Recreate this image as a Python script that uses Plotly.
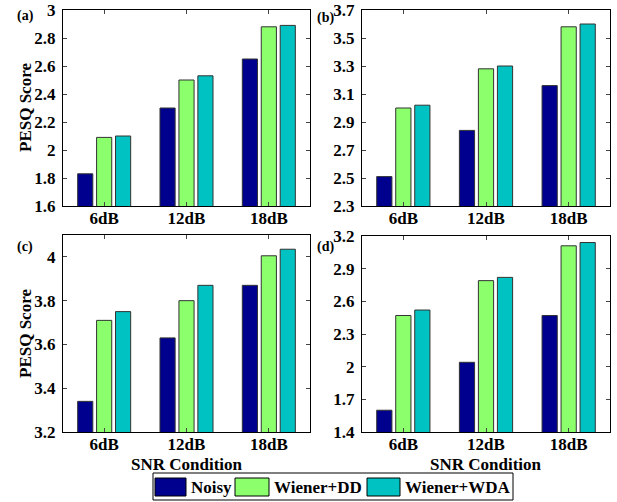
import plotly.graph_objects as go

categories = ["6dB", "12dB", "18dB"]
series_names = ["Noisy", "Wiener+DD", "Wiener+WDA"]
colors = ["#00008F", "#8CFF6C", "#00C2C2"]

# panel (a)
a_noisy = [1.83, 2.30, 2.65]
a_dd = [2.09, 2.50, 2.88]
a_wda = [2.10, 2.53, 2.89]
# panel (b)
b_noisy = [2.51, 2.84, 3.16]
b_dd = [3.00, 3.28, 3.58]
b_wda = [3.02, 3.30, 3.60]
# panel (c)
c_noisy = [3.34, 3.63, 3.87]
c_dd = [3.71, 3.80, 4.005]
c_wda = [3.75, 3.87, 4.035]
# panel (d)
d_noisy = [1.60, 2.04, 2.47]
d_dd = [2.47, 2.79, 3.11]
d_wda = [2.52, 2.82, 3.14]

y_ranges = {"a": [1.6, 3.0], "b": [2.3, 3.7], "c": [3.2, 4.1], "d": [1.4, 3.2]}
y_dticks = {"a": 0.2, "b": 0.2, "c": 0.2, "d": 0.3}
y_tick0 = {"a": 1.6, "b": 2.3, "c": 3.2, "d": 1.4}

W, H = 617, 502
FONT = "Liberation Serif, Times New Roman, serif"

def px(x):
    return x / W

def py(y):
    return 1 - y / H

panels = {
    "a": (a_noisy, a_dd, a_wda, [63, 310], [10, 206], "x", "y"),
    "b": (b_noisy, b_dd, b_wda, [362, 610], [10, 206], "x2", "y2"),
    "c": (c_noisy, c_dd, c_wda, [63, 310], [235, 432], "x3", "y3"),
    "d": (d_noisy, d_dd, d_wda, [362, 610], [236, 432], "x4", "y4"),
}

fig = go.Figure()
xpos = [1, 2, 3]
layout = {}
for key, (n, dd, wda, xd, yd, xa, ya) in panels.items():
    for name, vals, col in zip(series_names, [n, dd, wda], colors):
        fig.add_trace(go.Bar(x=xpos, y=vals, name=name, marker_color=col,
                             marker_line_color="#333333", marker_line_width=1,
                             xaxis=xa, yaxis=ya, showlegend=False))
    xname = "xaxis" + xa[1:]
    yname = "yaxis" + ya[1:]
    layout[xname] = dict(domain=[px(xd[0]), px(xd[1])], anchor=ya, range=[0.5, 3.5],
                         tickvals=xpos, ticktext=categories, ticks="inside", ticklen=4,
                         showline=True, linecolor="black", linewidth=1, mirror="ticks",
                         showgrid=False, zeroline=False, ticklabelstandoff=-3, automargin=False,
                         tickfont=dict(family=FONT, size=17, color="black", weight="bold"))
    layout[yname] = dict(domain=[py(yd[1]), py(yd[0])], anchor=xa, range=y_ranges[key],
                         tick0=y_tick0[key], dtick=y_dticks[key], ticks="inside", ticklen=4,
                         showline=True, linecolor="black", linewidth=1, mirror="ticks",
                         showgrid=False, zeroline=False, ticklabelstandoff=3, automargin=False,
                         tickfont=dict(family=FONT, size=17, color="black", weight="bold"))

fig.update_layout(**layout)

annotations = []
bold = dict(family=FONT, size=17, color="black", weight="bold")
for lab, x, y in [("(a)", 25, 16), ("(b)", 325, 18), ("(c)", 25, 247), ("(d)", 325, 247)]:
    annotations.append(dict(text=lab, x=px(x), y=py(y), xref="paper", yref="paper",
                            showarrow=False, xanchor="center", yanchor="middle",
                            font=dict(family=FONT, size=14, color="black", weight="bold")))
for y in [108, 334]:
    annotations.append(dict(text="PESQ Score", x=px(25), y=py(y), xref="paper", yref="paper",
                            showarrow=False, textangle=-90, xanchor="center", yanchor="middle",
                            font=bold))
for x in [187, 486]:
    annotations.append(dict(text="SNR Condition", x=px(x), y=py(464), xref="paper", yref="paper",
                            showarrow=False, xanchor="center", yanchor="middle", font=bold))

# custom legend
shapes = [dict(type="rect", xref="paper", yref="paper", x0=px(153), x1=px(513),
               y0=py(500), y1=py(473), line=dict(color="black", width=1), fillcolor="white")]
legend_items = [(155, 186, 189), (235, 269, 272), (367, 400, 403)]
for (s0, s1, tx), name, col in zip(legend_items, series_names, colors):
    shapes.append(dict(type="rect", xref="paper", yref="paper", x0=px(s0), x1=px(s1),
                       y0=py(496), y1=py(478), line=dict(color="black", width=1), fillcolor=col))
    annotations.append(dict(text=name, x=px(tx), y=py(487), xref="paper", yref="paper",
                            showarrow=False, xanchor="left", yanchor="middle", font=bold))

fig.update_layout(width=W, height=H, margin=dict(l=0, r=0, t=0, b=0, autoexpand=False),
                  paper_bgcolor="white", plot_bgcolor="white",
                  barmode="group", bargap=0.31, bargroupgap=0.2,
                  annotations=annotations, shapes=shapes, showlegend=False,
                  font=dict(family=FONT, color="black"))

fig.write_html("out.html", config={"displayModeBar": False},
               post_script="document.body.style.margin='0';document.body.style.padding='0';"
                           "document.body.style.overflow='hidden';")
